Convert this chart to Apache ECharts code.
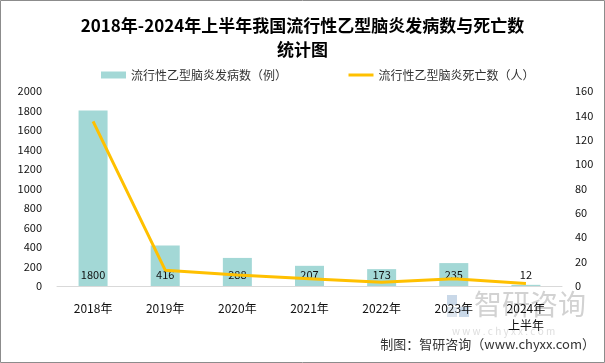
<!DOCTYPE html>
<html><head><meta charset="utf-8">
<script src="https://cdn.jsdelivr.net/npm/echarts@6/dist/echarts.min.js"></script>
<style>html,body{margin:0;padding:0;background:#fff}#c{width:605px;height:363px}</style>
</head><body><div id="c"></div>
<script>
const categories = ['2018年','2019年','2020年','2021年','2022年','2023年','2024年\n上半年'];
const cases = [1800, 416, 288, 207, 173, 235, 12];
const deaths = [135, 13, 9, 6, 3, 6, 2];
const leftTicks = {min: 0, max: 2000, interval: 200};
const rightTicks = {min: 0, max: 160, interval: 20};
const seriesNames = ['流行性乙型脑炎发病数（例）', '流行性乙型脑炎死亡数（人）'];
const FONT = '"Noto Sans CJK SC", "Noto Sans", sans-serif';

const chart = echarts.init(document.getElementById('c'), null, {renderer: 'canvas'});
chart.setOption({
  animation: false,
  textStyle: {fontFamily: FONT},
  title: {
    text: '2018年-2024年上半年我国流行性乙型脑炎发病数与死亡数\n统计图',
    left: 'center', top: 9,
    textStyle: {fontSize: 17, fontWeight: 'bold', color: '#000', lineHeight: 24, fontFamily: FONT}
  },
  legend: {
    top: 64, left: 96, itemGap: 60, itemWidth: 25, itemHeight: 7,
    textStyle: {fontSize: 12, color: '#333', fontFamily: FONT},
    data: [
      {name: seriesNames[0], icon: 'rect'},
      {name: seriesNames[1], itemStyle: {opacity: 0}, lineStyle: {width: 3, color: '#ffc000'}}
    ]
  },
  grid: {left: 57, right: 43, top: 91, bottom: 77, containLabel: false},
  xAxis: {
    type: 'category', data: categories,
    axisLine: {lineStyle: {color: '#d9d9d9'}},
    axisTick: {show: false},
    axisLabel: {fontSize: 12, color: '#111', margin: 14, lineHeight: 17, interval: 0}
  },
  yAxis: [
    {type: 'value', ...leftTicks, axisLine: {show: false}, axisTick: {show: false}, splitLine: {show: false},
     axisLabel: {fontSize: 11, color: '#111', margin: 15, formatter: v => String(v)}},
    {type: 'value', ...rightTicks, axisLine: {show: false}, axisTick: {show: false}, splitLine: {show: false},
     axisLabel: {fontSize: 11, color: '#111', margin: 13, formatter: v => String(v)}}
  ],
  series: [
    {name: seriesNames[0], type: 'bar', data: cases, yAxisIndex: 0, barWidth: 29,
     itemStyle: {color: '#a3d8d6'},
     label: {show: true, position: 'insideBottom', distance: 6, fontSize: 11, color: '#111'}},
    {name: seriesNames[1], type: 'line', data: deaths, yAxisIndex: 1, symbol: 'none',
     lineStyle: {color: '#ffc000', width: 3}, itemStyle: {color: '#ffc000'}, z: 5}
  ],
  graphic: [
    {type: 'rect', shape: {x: 0.5, y: 0.5, width: 604, height: 362}, style: {fill: 'none', stroke: '#8c8c8c', lineWidth: 1}, silent: true},
    {type: 'rect', shape: {x: 447, y: 295, width: 10, height: 10}, style: {fill: '#c9d8e8'}, silent: true, z: 0},
    {type: 'rect', shape: {x: 459, y: 307, width: 10, height: 10}, style: {fill: '#c9d8e8'}, silent: true, z: 0},
    {type: 'rect', shape: {x: 447, y: 307, width: 10, height: 10}, style: {fill: '#dde5ee'}, silent: true, z: 0},
    {type: 'text', left: 474, top: 290, style: {text: '智研咨询', fontSize: 28, fill: '#d2d2d2', fontFamily: FONT}, silent: true, z: 0},
    {type: 'text', left: 452, top: 326, style: {text: 'w w w . c h y x x . c o m', fontSize: 10, fill: '#dedede', fontFamily: FONT}, silent: true, z: 0},
    {type: 'text', right: 10, top: 338, style: {text: '制图：智研咨询（www.chyxx.com）', fontSize: 13, fill: '#333', fontFamily: FONT}, silent: true}
  ]
});
</script></body></html>
